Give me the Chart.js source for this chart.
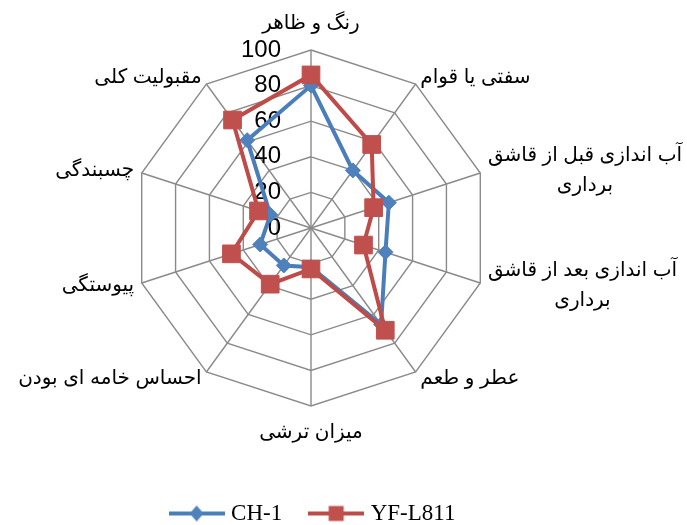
<!DOCTYPE html>
<html>
<head>
<meta charset="utf-8">
<script src="https://cdn.jsdelivr.net/npm/chart.js@4.4.1/dist/chart.umd.min.js"></script>
<style>
    body { margin: 0; background: #fff; }
    canvas { display: block; }
</style>
</head>
<body>
<canvas id="radarChart" width="687" height="525"></canvas>
<script>
// Sensory attributes, clockwise from the top (two-line labels are split)
const attributes = [
    ['رنگ و ظاهر'],
    ['سفتی یا قوام'],
    ['آب اندازی قبل از قاشق', 'برداری'],
    ['آب اندازی بعد از قاشق', 'برداری'],
    ['عطر و طعم'],
    ['میزان ترشی'],
    ['احساس خامه ای بودن'],
    ['پیوستگی'],
    ['چسبندگی'],
    ['مقبولیت کلی']
];
const seriesNames = ['CH-1', 'YF-L811'];
const ch1Scores = [80, 40, 46, 44, 67, 22, 26, 30, 24, 61];
const yfScores = [86, 58, 37, 31, 71, 23, 39, 47, 31, 75];
const tickValues = [0, 20, 40, 60, 80, 100];

const lineColors = ['#4A7EBB', '#BE4B48'];
const markerColors = ['#4F81BD', '#C0504D'];
const gridColor = '#8a8a8a';

// Legend icon: line with the marker in the middle (like the Excel legend)
function makeLegendIcon(index) {
    const c = document.createElement('canvas');
    c.width = 56;
    c.height = 20;
    const g = c.getContext('2d');
    g.strokeStyle = lineColors[index];
    g.lineWidth = 4;
    g.beginPath();
    g.moveTo(0, 10);
    g.lineTo(56, 10);
    g.stroke();
    g.fillStyle = markerColors[index];
    if (index === 0) {
        g.beginPath();
        g.moveTo(28, 2);
        g.lineTo(35, 10);
        g.lineTo(28, 18);
        g.lineTo(21, 10);
        g.closePath();
        g.fill();
    } else {
        g.fillRect(20.5, 2.5, 15, 15);
    }
    return c;
}
const legendIcons = [makeLegendIcon(0), makeLegendIcon(1)];

// Axis numbers drawn to the left of the top spoke
const tickLabelPlugin = {
    id: 'tickLabels',
    beforeDatasetsDraw(chart) {
        const scale = chart.scales.r;
        const ctx = chart.ctx;
        ctx.save();
        ctx.font = '24px "Liberation Sans", Arial, sans-serif';
        ctx.fillStyle = '#000';
        ctx.textAlign = 'right';
        ctx.textBaseline = 'middle';
        scale.ticks.forEach(t => {
            const y = scale.yCenter - scale.getDistanceFromCenterForValue(t.value);
            ctx.fillText(String(t.value), scale.xCenter - 30, y);
        });
        ctx.restore();
    }
};

// Category labels round the web; lines of a block are centred on each other
const pointLabelPlugin = {
    id: 'attributeLabels',
    afterDraw(chart) {
        const scale = chart.scales.r;
        const ctx = chart.ctx;
        const lineHeight = 30;
        ctx.save();
        ctx.font = '20px "Liberation Sans", "DejaVu Sans", sans-serif';
        ctx.fillStyle = '#000';
        ctx.textBaseline = 'middle';
        ctx.textAlign = 'center';
        attributes.forEach((lines, i) => {
            const pos = scale.getPointPosition(i, scale.drawingArea + 8);
            const angle = i * 2 * Math.PI / attributes.length;
            const s = Math.sin(angle);
            const c = Math.cos(angle);
            const blockW = Math.max(...lines.map(l => ctx.measureText(l).width));
            let cx = pos.x;
            if (s > 0.05) cx = pos.x + blockW / 2;
            else if (s < -0.05) cx = pos.x - blockW / 2;
            let y;
            if (c > 0.99) {
                y = pos.y - 19 - (lines.length - 1) * lineHeight;
            } else if (c < -0.99) {
                y = pos.y + 18;
            } else {
                y = pos.y - (lines.length - 1) * lineHeight / 2;
            }
            lines.forEach((line, k) => {
                ctx.fillText(line, cx, y + k * lineHeight);
            });
        });
        ctx.restore();
    }
};

// Nudge the legend down to the bottom edge and a little to the left
const legendShiftPlugin = {
    id: 'legendShift',
    afterLayout(chart) {
        chart.legend.top += 10;
        chart.legend.bottom += 10;
        chart.legend.left -= 29;
        chart.legend.right -= 29;
    }
};

const ctx = document.getElementById('radarChart').getContext('2d');
const radarChart = new Chart(ctx, {
    type: 'radar',
    data: {
        labels: attributes.map(a => a.join(' ')),
        datasets: [{
            label: seriesNames[0],
            data: ch1Scores,
            borderColor: lineColors[0],
            backgroundColor: markerColors[0],
            borderWidth: 4,
            fill: false,
            pointStyle: 'rectRot',
            pointRadius: 7.5,
            pointBorderWidth: 1,
            pointBackgroundColor: markerColors[0],
            pointBorderColor: markerColors[0],
            order: 2
        }, {
            label: seriesNames[1],
            data: yfScores,
            borderColor: lineColors[1],
            backgroundColor: markerColors[1],
            borderWidth: 4,
            fill: false,
            pointStyle: 'rect',
            pointRadius: 12.5,
            pointBorderWidth: 1,
            pointBackgroundColor: markerColors[1],
            pointBorderColor: markerColors[1],
            order: 1
        }]
    },
    options: {
        responsive: false,
        animation: false,
        events: [],
        elements: { line: { tension: 0 } },
        scales: {
            r: {
                min: tickValues[0],
                max: tickValues[tickValues.length - 1],
                ticks: {
                    stepSize: tickValues[1] - tickValues[0],
                    display: false
                },
                grid: { color: gridColor, lineWidth: 1.4, circular: false },
                angleLines: { color: gridColor, lineWidth: 1.4 },
                pointLabels: { display: false },
                afterFit: function(scale) {
                    scale.xCenter = 311;
                    scale.yCenter = 228;
                    scale.drawingArea = 178;
                }
            }
        },
        plugins: {
            legend: {
                position: 'bottom',
                labels: {
                    usePointStyle: true,
                    pointStyleWidth: 46,
                    padding: 31,
                    color: '#000',
                    font: { family: '"Liberation Serif", "Times New Roman", serif', size: 23 },
                    generateLabels: () => seriesNames.map((name, i) => ({
                        text: name,
                        pointStyle: legendIcons[i],
                        fillStyle: markerColors[i],
                        strokeStyle: lineColors[i],
                        lineWidth: 0,
                        hidden: false,
                        datasetIndex: i
                    }))
                }
            },
            tooltip: { enabled: false }
        }
    },
    plugins: [tickLabelPlugin, pointLabelPlugin, legendShiftPlugin]
});
</script>
</body>
</html>
